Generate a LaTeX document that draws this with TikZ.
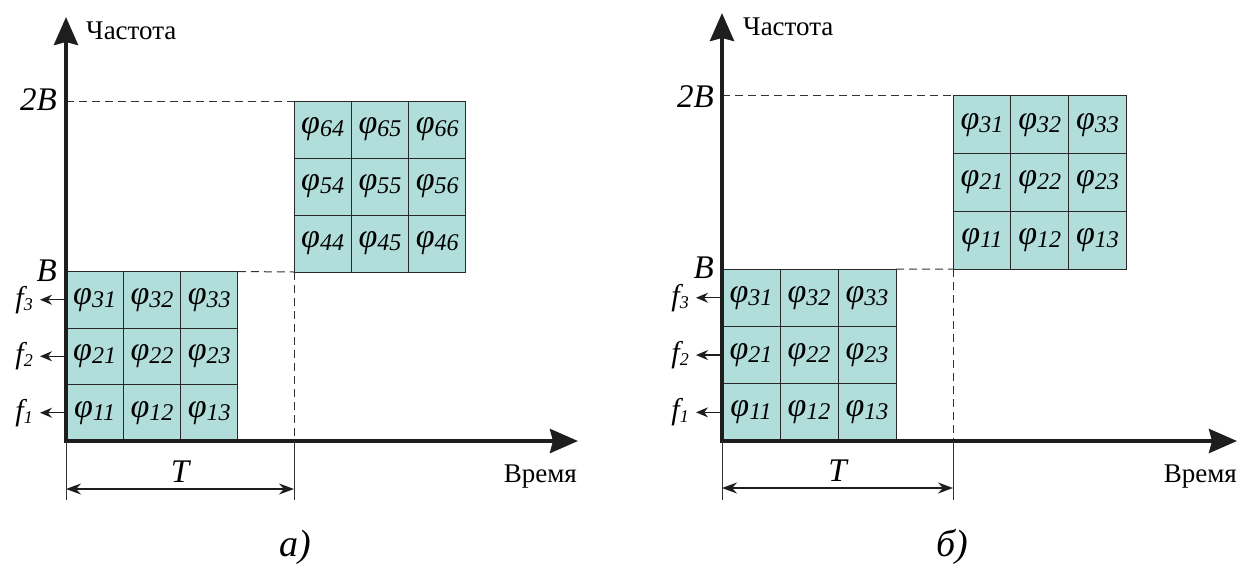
\documentclass[tikz,border=0pt]{standalone}
\usepackage{fontspec}
\setmainfont{Liberation Serif}
\usepackage{tikz}
\usetikzlibrary{arrows.meta,positioning}
\definecolor{cellfill}{RGB}{177,222,219}
\definecolor{cellline}{RGB}{40,40,40}
\definecolor{axiscol}{RGB}{30,30,30}
\definecolor{guidecol}{RGB}{50,50,50}
\newcommand{\fcell}[1]{\textit{φ\raisebox{-3pt}{\fontsize{24}{24}\selectfont #1}}}
\newcommand{\fsub}[1]{\textit{f\raisebox{-3pt}{\fontsize{18}{18}\selectfont #1}}}

\begin{document}
\begin{tikzpicture}[x=1pt, y=-1pt,
	cell/.style={draw=cellline, fill=cellfill, line width=0.9pt, inner sep=0pt, outer sep=0pt, anchor=north west, font=\fontsize{34}{34}\selectfont},
	axis/.style={line width=4pt, draw=axiscol, line join=miter, arrows={Stealth[length=28pt,width=24pt,inset=3pt]-Stealth[length=28pt,width=24pt,inset=3pt]}},
	guide/.style={draw=guidecol, line width=1pt, dash pattern=on 8pt off 5pt},
	ext/.style={draw=guidecol, line width=1pt},
	dim/.style={draw=axiscol, line width=1.2pt, arrows={Stealth[length=15pt,width=11pt]-Stealth[length=15pt,width=11pt]}},
	farrow/.style={line width=1.4pt, draw=axiscol, -{Stealth[length=12pt,width=10pt]}},
	lbl/.style={inner sep=0pt, font=\fontsize{33}{33}\selectfont\itshape},
	flbl/.style={inner sep=0pt, font=\fontsize{30}{30}\selectfont},
	ax/.style={inner sep=0pt, font=\fontsize{27}{27}\selectfont},
	capt/.style={inner sep=0pt, font=\fontsize{38}{38}\selectfont\itshape}]
	\useasboundingbox (0,0) rectangle (1239,563);
	
	% --- panel a) ---
	\coordinate (aO) at (66,441);
	\coordinate (ayt) at (66,17);
	\coordinate (axt) at (578,441);
	\foreach \r in {1,2,3}
	\foreach \c in {1,2,3}
	\node[cell, minimum width=57.3pt, minimum height=56.5pt] (a\r\c) at ({66+(\c-1)*57.3},{441-\r*56.5}) {\fcell{\r\c}};
	\foreach \r in {4,5,6}
	\foreach \c in {4,5,6}
	\node[cell, minimum width=57.3pt, minimum height=57pt] (a\r\c) at ({294+(\c-4)*57.3},{272-(\r-3)*57}) {\fcell{\r\c}};
	
	\draw[guide] (aO |- a64.north west) -- (a64.north west);
	\draw[guide] (a33.north east) -- (a44.south west);
	\draw[guide] (a44.south west) -- (a44.south west |- aO);
	\draw[axis] (ayt) -- (aO) -- (axt);
	
	\node[lbl, anchor=east] (a2B) at (57,100) {2B};
	\node[lbl, anchor=east] (aB) at (57,271) {B};
	\node[ax, anchor=west] (afreq) at (86,31) {Частота};
	\node[ax, anchor=east] (atime) at (577,477) {Время};
	
	\node[flbl, left=33pt of a31.west] (af3) {\fsub{3}};
	\node[flbl, left=33pt of a21.west] (af2) {\fsub{2}};
	\node[flbl, left=33pt of a11.west] (af1) {\fsub{1}};
	\draw[farrow, shorten >=7pt] (a31.west) -- (af3.east);
	\draw[farrow, shorten >=7pt] (a21.west) -- (af2.east);
	\draw[farrow, shorten >=7pt] (a11.west) -- (af1.east);
	
	\coordinate (aEl) at (66,500);
	\coordinate (aEr) at (294,500);
	\coordinate (aDl) at (66,489);
	\coordinate (aDr) at (294,489);
	\draw[ext] (aO) -- (aEl);
	\draw[ext] (a44.south west |- aO) -- (aEr);
	\draw[dim] (aDl) -- node[lbl, above=6pt] (aT) {T} (aDr);
	\node[capt] (acap) at (295,547) {а)};
	
	% --- panel б) ---
	\coordinate (bO) at (722,441);
	\coordinate (byt) at (722,13);
	\coordinate (bxt) at (1237,441);
	\foreach \r in {1,2,3}
	\foreach \c in {1,2,3}
	\node[cell, minimum width=58pt, minimum height=57.3pt] (b\r\c) at ({722+(\c-1)*58},{441-\r*57.3}) {\fcell{\r\c}};
	\foreach \r in {1,2,3}
	\foreach \c in {1,2,3}
	\node[cell, minimum width=57.8pt, minimum height=57.7pt] (bu\r\c) at ({953+(\c-1)*57.8},{269-\r*57.7}) {\fcell{\r\c}};
	
	\draw[guide] (bO |- bu31.north west) -- (bu31.north west);
	\draw[guide] (b33.north east) -- (bu11.south west);
	\draw[guide] (bu11.south west) -- (bu11.south west |- bO);
	\draw[axis] (byt) -- (bO) -- (bxt);
	
	\node[lbl, anchor=east] (b2B) at (714,97) {2B};
	\node[lbl, anchor=east] (bB) at (714,268) {B};
	\node[ax, anchor=west] (bfreq) at (743,27) {Частота};
	\node[ax, anchor=east] (btime) at (1237,477) {Время};
	
	\node[flbl, left=33pt of b31.west] (bf3) {\fsub{3}};
	\node[flbl, left=33pt of b21.west] (bf2) {\fsub{2}};
	\node[flbl, left=33pt of b11.west] (bf1) {\fsub{1}};
	\draw[farrow, shorten >=7pt] (b31.west) -- (bf3.east);
	\draw[farrow, shorten >=7pt] (b21.west) -- (bf2.east);
	\draw[farrow, shorten >=7pt] (b11.west) -- (bf1.east);
	
	\coordinate (bEl) at (722,500);
	\coordinate (bEr) at (953,500);
	\coordinate (bDl) at (722,488);
	\coordinate (bDr) at (953,488);
	\draw[ext] (bO) -- (bEl);
	\draw[ext] (bu11.south west |- bO) -- (bEr);
	\draw[dim] (bDl) -- node[lbl, above=6pt] (bT) {T} (bDr);
	\node[capt] (bcap) at (952,547) {б)};
\end{tikzpicture}
\end{document}
